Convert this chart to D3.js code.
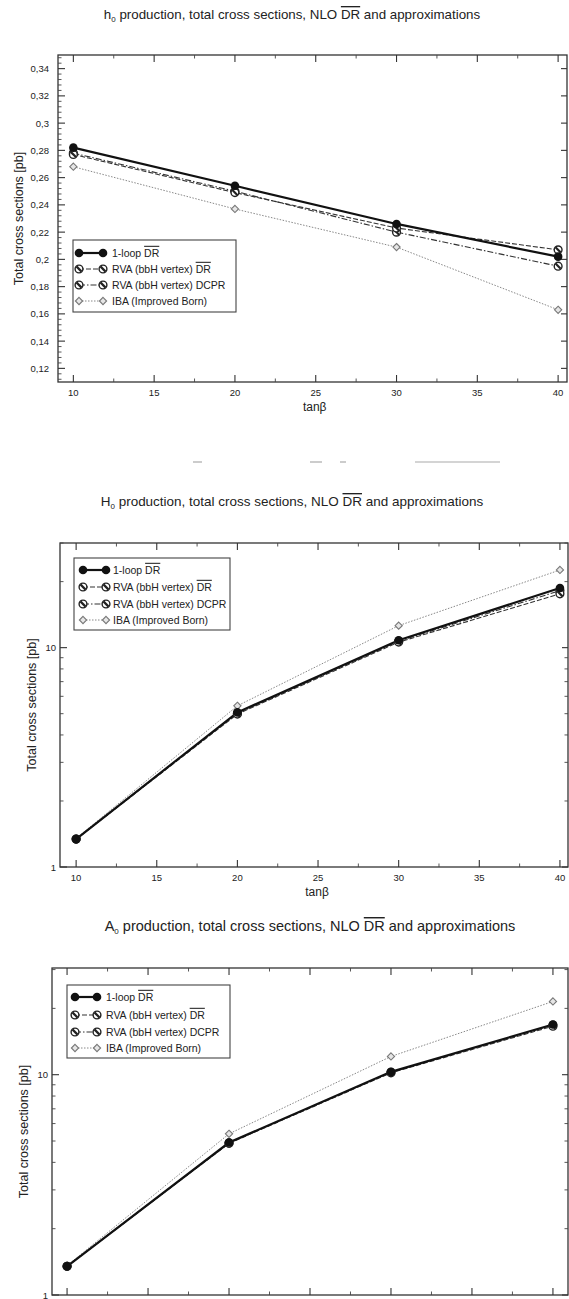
<!DOCTYPE html>
<html>
<head>
<meta charset="utf-8">
<script src="https://cdn.jsdelivr.net/npm/d3@7"></script>
<style>
  html, body { margin: 0; padding: 0; background: #fff; }
  svg { display: block; }
  text { font-family: "Liberation Sans", Arial, sans-serif; fill: #222; }
</style>
</head>
<body>
<svg id="chart" width="569" height="1299"></svg>
<script>
// ---------------- DATA ----------------
const tanBeta = [10, 20, 30, 40];
const seriesNames = ["1-loop DR", "RVA (bbH vertex) DR", "RVA (bbH vertex) DCPR", "IBA (Improved Born)"];

// h0 production (pb)
const h0OneLoop = [0.282, 0.254, 0.226, 0.202];
const h0RvaDR   = [0.277, 0.249, 0.223, 0.207];
const h0RvaDCPR = [0.278, 0.250, 0.220, 0.195];
const h0IBA     = [0.268, 0.237, 0.209, 0.163];

// H0 production (pb)
const H0OneLoop = [1.34, 5.07, 10.8, 18.7];
const H0RvaDR   = [1.34, 4.98, 10.6, 17.6];
const H0RvaDCPR = [1.34, 5.02, 10.7, 18.2];
const H0IBA     = [1.35, 5.43, 12.6, 22.6];

// A0 production (pb)
const A0OneLoop = [1.35, 4.92, 10.3, 16.9];
const A0RvaDR   = [1.35, 4.88, 10.2, 16.6];
const A0RvaDCPR = [1.35, 4.90, 10.25, 16.8];
const A0IBA     = [1.36, 5.39, 12.1, 21.5];

const xTickLabels = [10, 15, 20, 25, 30, 35, 40];
const h0YTicks = [0.12, 0.14, 0.16, 0.18, 0.2, 0.22, 0.24, 0.26, 0.28, 0.3, 0.32, 0.34];
const logYTicks = [1, 10];

// ---------------- STYLES ----------------
const styles = [
  { stroke: "#111", width: 2.2, dash: null, marker: "filled" },
  { stroke: "#333", width: 1.1, dash: "5,2", marker: "hatched" },
  { stroke: "#333", width: 1.1, dash: "6,2,1.5,2", marker: "hatched" },
  { stroke: "#888", width: 1.0, dash: "1.5,1.5", marker: "diamond" }
];

const svg = d3.select("#chart");
const fmtComma = d => String(+d.toFixed(2)).replace(".", ",");

function drawMarker(g, kind, x, y) {
  if (kind === "filled") {
    g.append("circle").attr("cx", x).attr("cy", y).attr("r", 4.3).attr("fill", "#111");
  } else if (kind === "hatched") {
    g.append("circle").attr("cx", x).attr("cy", y).attr("r", 3.9)
      .attr("fill", "#fff").attr("stroke", "#222").attr("stroke-width", 1.4);
    g.append("line").attr("x1", x - 2.6).attr("y1", y - 2.6).attr("x2", x + 2.6).attr("y2", y + 2.6)
      .attr("stroke", "#222").attr("stroke-width", 2.2);
  } else {
    const s = 3.6;
    g.append("path")
      .attr("d", `M${x},${y - s}L${x + s},${y}L${x},${y + s}L${x - s},${y}Z`)
      .attr("fill", "#e6e6e6").attr("stroke", "#777").attr("stroke-width", 1.1);
  }
}

function addTitle(y, cx, width, prefix, sub) {
  const t = svg.append("text").attr("x", cx).attr("y", y).attr("text-anchor", "middle")
    .style("font-size", "12px");
  t.append("tspan").text(prefix);
  t.append("tspan").text("0").attr("dy", 3).style("font-size", "8px");
  t.append("tspan").text(" production, total cross sections, " + (sub ? " " : "") + "NLO ").attr("dy", -3);
  t.append("tspan").text("DR").style("text-decoration", "overline");
  t.append("tspan").text(" and approximations");
  const w = t.node().getComputedTextLength();
  t.style("font-size", (12 * width / w).toFixed(2) + "px");
}

function legendLabel(t, name) {
  if (name.endsWith(" DR")) {
    t.append("tspan").text(name.slice(0, -2));
    t.append("tspan").text("DR").style("text-decoration", "overline");
  } else {
    t.text(name);
  }
}

function drawPanel(cfg) {
  const { left, right, top, bottom, xDomain, yScale, series, legend, yLabelX, xLabels, yTickLabelX } = cfg;
  const x = d3.scaleLinear().domain(xDomain).range([left, right]);
  const y = yScale.range([bottom, top]);
  const g = svg.append("g");

  // frame
  g.append("rect").attr("x", left).attr("y", top).attr("width", right - left).attr("height", bottom - top)
    .attr("fill", "none").attr("stroke", "#333").attr("stroke-width", 1.3);

  // x ticks (inward, bottom and top): major every 5, minor 2.5
  const xMajor = xTickLabels;
  const xMinor = d3.range(12.5, 40, 5);
  [[bottom, -1], [top, 1]].forEach(([yy, dir]) => {
    xMajor.forEach(v => g.append("line").attr("x1", x(v)).attr("x2", x(v)).attr("y1", yy).attr("y2", yy + dir * 7)
      .attr("stroke", "#333").attr("stroke-width", 1.1));
    xMinor.forEach(v => g.append("line").attr("x1", x(v)).attr("x2", x(v)).attr("y1", yy).attr("y2", yy + dir * 3.5)
      .attr("stroke", "#444").attr("stroke-width", 0.9));
  });
  if (xLabels) {
    xMajor.forEach(v => g.append("text").attr("x", x(v)).attr("y", bottom + 14).attr("text-anchor", "middle")
      .style("font-size", "9.5px").text(v));
    g.append("text").attr("x", x(25) - 1).attr("y", bottom + 29).attr("text-anchor", "middle")
      .style("font-size", "12px").text("tanβ");
  }

  // y ticks
  cfg.yMajor.forEach(v => {
    g.append("line").attr("x1", left).attr("x2", left + 7).attr("y1", y(v)).attr("y2", y(v)).attr("stroke", "#333").attr("stroke-width", 1.1);
    g.append("line").attr("x1", right).attr("x2", right - 6).attr("y1", y(v)).attr("y2", y(v)).attr("stroke", "#333").attr("stroke-width", 1.1);
  });
  cfg.yMinor.forEach(v => {
    g.append("line").attr("x1", left).attr("x2", left + 3.5).attr("y1", y(v)).attr("y2", y(v)).attr("stroke", "#444").attr("stroke-width", 0.9);
    if (cfg.rightMinor) g.append("line").attr("x1", right).attr("x2", right - 3.5).attr("y1", y(v)).attr("y2", y(v)).attr("stroke", "#444").attr("stroke-width", 0.9);
  });
  cfg.yTickLabels.forEach(v => g.append("text").attr("x", yTickLabelX).attr("y", y(v) + 3.5).attr("text-anchor", "end")
    .style("font-size", "9.5px").text(cfg.yFmt(v)));

  // y label
  g.append("text").attr("transform", `translate(${yLabelX},${(top + bottom) / 2}) rotate(-90)`)
    .attr("text-anchor", "middle").style("font-size", "12.5px").text("Total cross sections [pb]");

  // series (draw IBA first, 1-loop last)
  const line = d3.line().x((d, i) => x(tanBeta[i])).y(d => y(d));
  [3, 2, 1, 0].forEach(si => {
    const st = styles[si];
    g.append("path").datum(series[si]).attr("d", line).attr("fill", "none")
      .attr("stroke", st.stroke).attr("stroke-width", st.width)
      .attr("stroke-dasharray", st.dash);
  });
  [3, 2, 1, 0].forEach(si => {
    series[si].forEach((v, i) => drawMarker(g, styles[si].marker, x(tanBeta[i]), y(v)));
  });

  // legend
  const L = legend;
  g.append("rect").attr("x", L.x0).attr("y", L.y0).attr("width", L.x1 - L.x0).attr("height", L.y1 - L.y0)
    .attr("fill", "#fff").attr("stroke", "#444").attr("stroke-width", 1.1);
  seriesNames.forEach((name, i) => {
    const yy = L.rows[i];
    const st = styles[i];
    g.append("line").attr("x1", L.m0).attr("x2", L.m1).attr("y1", yy).attr("y2", yy)
      .attr("stroke", st.stroke).attr("stroke-width", st.width).attr("stroke-dasharray", st.dash);
    drawMarker(g, st.marker, L.m0, yy);
    drawMarker(g, st.marker, L.m1, yy);
    const t = g.append("text").attr("x", L.tx).attr("y", yy + 3.8).style("font-size", "10.5px");
    legendLabel(t, name);
  });
}

// ---------- Panel 1: h0 ----------
addTitle(19, 292, 377, "h", false);
const h0Minor = d3.range(0.112, 0.35, 0.004).filter(v => Math.abs(v / 0.02 - Math.round(v / 0.02)) > 0.01);
drawPanel({
  left: 58, right: 567, top: 55, bottom: 382,
  xDomain: [9.05, 40.55],
  yScale: d3.scaleLinear().domain([0.11, 0.35]),
  yMajor: h0YTicks, yMinor: h0Minor, rightMinor: false,
  yTickLabels: h0YTicks, yFmt: fmtComma, yTickLabelX: 49,
  series: [h0OneLoop, h0RvaDR, h0RvaDCPR, h0IBA],
  legend: { x0: 73, x1: 236, y0: 240, y1: 312, m0: 79, m1: 103, tx: 112, rows: [253, 269, 285, 301] },
  yLabelX: 23, xLabels: true
});

// ---------- Panel 2: H0 ----------
addTitle(506, 292, 383, "H", true);
const logMinor = [2, 3, 4, 5, 6, 7, 8, 9, 20, 30];
drawPanel({
  left: 60, right: 568, top: 543, bottom: 867,
  xDomain: [9, 40.5],
  yScale: d3.scaleLog().domain([1, 30]),
  yMajor: logYTicks, yMinor: logMinor, rightMinor: true,
  yTickLabels: logYTicks, yFmt: d => String(d), yTickLabelX: 56,
  series: [H0OneLoop, H0RvaDR, H0RvaDCPR, H0IBA],
  legend: { x0: 74, x1: 230, y0: 558, y1: 630, m0: 83, m1: 106, tx: 113, rows: [570, 587, 604, 620] },
  yLabelX: 36, xLabels: true
});

// ---------- Panel 3: A0 ----------
addTitle(931, 310, 412, "A", false);
drawPanel({
  left: 52, right: 568, top: 968, bottom: 1295,
  xDomain: [9.07, 40.93],
  yScale: d3.scaleLog().domain([1, 30.5]),
  yMajor: logYTicks, yMinor: logMinor, rightMinor: true,
  yTickLabels: logYTicks, yFmt: d => String(d), yTickLabelX: 48,
  series: [A0OneLoop, A0RvaDR, A0RvaDCPR, A0IBA],
  legend: { x0: 67, x1: 230, y0: 985, y1: 1058, m0: 75, m1: 97, tx: 106, rows: [997, 1015, 1032, 1048] },
  yLabelX: 28, xLabels: false
});

// faint scan artefacts between panels
[[193, 202], [310, 322], [340, 346], [415, 500]].forEach(([a, b]) =>
  svg.append("line").attr("x1", a).attr("x2", b).attr("y1", 462).attr("y2", 462)
    .attr("stroke", "#aaa").attr("stroke-width", 1.2));
</script>
</body>
</html>
